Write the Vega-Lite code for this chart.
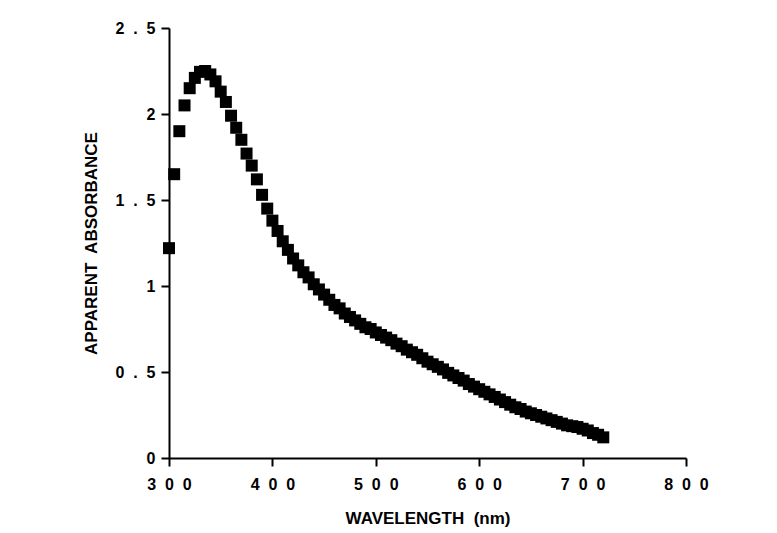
{
  "$schema": "https://vega.github.io/schema/vega-lite/v6.json",
  "width": 517,
  "height": 430,
  "autosize": {"type": "none"},
  "padding": {"left": 169, "top": 28, "right": 91, "bottom": 75},
  "background": "white",
  "config": {
    "view": {"stroke": null},
    "axis": {
      "grid": false,
      "domainColor": "black",
      "domainWidth": 2,
      "tickColor": "black",
      "tickWidth": 2,
      "tickSize": 8,
      "labelFont": "Liberation Sans",
      "labelFontWeight": "bold",
      "labelFontSize": 16,
      "labelColor": "black",
      "labelFlush": false,
      "labelOverlap": false,
      "titleFont": "Liberation Sans",
      "titleFontWeight": "bold",
      "titleFontSize": 17,
      "titleColor": "black"
    }
  },
  "data": {
    "values": [
      {"wavelength": 300, "absorbance": 1.22},
      {"wavelength": 305, "absorbance": 1.65},
      {"wavelength": 310, "absorbance": 1.9},
      {"wavelength": 315, "absorbance": 2.05},
      {"wavelength": 320, "absorbance": 2.15},
      {"wavelength": 325, "absorbance": 2.21},
      {"wavelength": 330, "absorbance": 2.245},
      {"wavelength": 335, "absorbance": 2.25},
      {"wavelength": 340, "absorbance": 2.23},
      {"wavelength": 345, "absorbance": 2.19},
      {"wavelength": 350, "absorbance": 2.13},
      {"wavelength": 355, "absorbance": 2.07},
      {"wavelength": 360, "absorbance": 1.99},
      {"wavelength": 365, "absorbance": 1.92},
      {"wavelength": 370, "absorbance": 1.85},
      {"wavelength": 375, "absorbance": 1.77},
      {"wavelength": 380, "absorbance": 1.7},
      {"wavelength": 385, "absorbance": 1.62},
      {"wavelength": 390, "absorbance": 1.53},
      {"wavelength": 395, "absorbance": 1.45},
      {"wavelength": 400, "absorbance": 1.38},
      {"wavelength": 405, "absorbance": 1.32},
      {"wavelength": 410, "absorbance": 1.26},
      {"wavelength": 415, "absorbance": 1.21},
      {"wavelength": 420, "absorbance": 1.16},
      {"wavelength": 425, "absorbance": 1.12},
      {"wavelength": 430, "absorbance": 1.08},
      {"wavelength": 435, "absorbance": 1.05},
      {"wavelength": 440, "absorbance": 1.01},
      {"wavelength": 445, "absorbance": 0.98},
      {"wavelength": 450, "absorbance": 0.95},
      {"wavelength": 455, "absorbance": 0.92},
      {"wavelength": 460, "absorbance": 0.89},
      {"wavelength": 465, "absorbance": 0.87},
      {"wavelength": 470, "absorbance": 0.84},
      {"wavelength": 475, "absorbance": 0.82},
      {"wavelength": 480, "absorbance": 0.8},
      {"wavelength": 485, "absorbance": 0.78},
      {"wavelength": 490, "absorbance": 0.76},
      {"wavelength": 495, "absorbance": 0.75},
      {"wavelength": 500, "absorbance": 0.73},
      {"wavelength": 505, "absorbance": 0.715},
      {"wavelength": 510, "absorbance": 0.7},
      {"wavelength": 515, "absorbance": 0.685},
      {"wavelength": 520, "absorbance": 0.665},
      {"wavelength": 525, "absorbance": 0.65},
      {"wavelength": 530, "absorbance": 0.63},
      {"wavelength": 535, "absorbance": 0.615},
      {"wavelength": 540, "absorbance": 0.6},
      {"wavelength": 545, "absorbance": 0.58},
      {"wavelength": 550, "absorbance": 0.56},
      {"wavelength": 555, "absorbance": 0.545},
      {"wavelength": 560, "absorbance": 0.53},
      {"wavelength": 565, "absorbance": 0.515},
      {"wavelength": 570, "absorbance": 0.495},
      {"wavelength": 575, "absorbance": 0.48},
      {"wavelength": 580, "absorbance": 0.465},
      {"wavelength": 585, "absorbance": 0.45},
      {"wavelength": 590, "absorbance": 0.43},
      {"wavelength": 595, "absorbance": 0.415},
      {"wavelength": 600, "absorbance": 0.4},
      {"wavelength": 605, "absorbance": 0.385},
      {"wavelength": 610, "absorbance": 0.37},
      {"wavelength": 615, "absorbance": 0.355},
      {"wavelength": 620, "absorbance": 0.34},
      {"wavelength": 625, "absorbance": 0.325},
      {"wavelength": 630, "absorbance": 0.31},
      {"wavelength": 635, "absorbance": 0.295},
      {"wavelength": 640, "absorbance": 0.285},
      {"wavelength": 645, "absorbance": 0.27},
      {"wavelength": 650, "absorbance": 0.26},
      {"wavelength": 655, "absorbance": 0.25},
      {"wavelength": 660, "absorbance": 0.24},
      {"wavelength": 665, "absorbance": 0.23},
      {"wavelength": 670, "absorbance": 0.22},
      {"wavelength": 675, "absorbance": 0.21},
      {"wavelength": 680, "absorbance": 0.2},
      {"wavelength": 685, "absorbance": 0.19},
      {"wavelength": 690, "absorbance": 0.185},
      {"wavelength": 695, "absorbance": 0.18},
      {"wavelength": 700, "absorbance": 0.17},
      {"wavelength": 705, "absorbance": 0.16},
      {"wavelength": 710, "absorbance": 0.145},
      {"wavelength": 715, "absorbance": 0.135},
      {"wavelength": 720, "absorbance": 0.12}
    ]
  },
  "mark": {"type": "square", "size": 144, "color": "black", "opacity": 1},
  "encoding": {
    "x": {
      "field": "wavelength",
      "type": "quantitative",
      "scale": {"domain": [300, 800]},
      "axis": {
        "title": "WAVELENGTH\u00a0 (nm)",
        "values": [300, 400, 500, 600, 700, 800],
        "labelExpr": "join(split(toString(datum.value), ''), '\u00a0\u00a0')",
        "labelPadding": 10,
        "titlePadding": 18
      }
    },
    "y": {
      "field": "absorbance",
      "type": "quantitative",
      "scale": {"domain": [0, 2.5]},
      "axis": {
        "title": "APPARENT\u00a0 ABSORBANCE",
        "values": [0, 0.5, 1, 1.5, 2, 2.5],
        "labelExpr": "join(split(toString(datum.value), ''), '\u00a0\u00a0')",
        "labelPadding": 6,
        "titlePadding": 14
      }
    }
  }
}
